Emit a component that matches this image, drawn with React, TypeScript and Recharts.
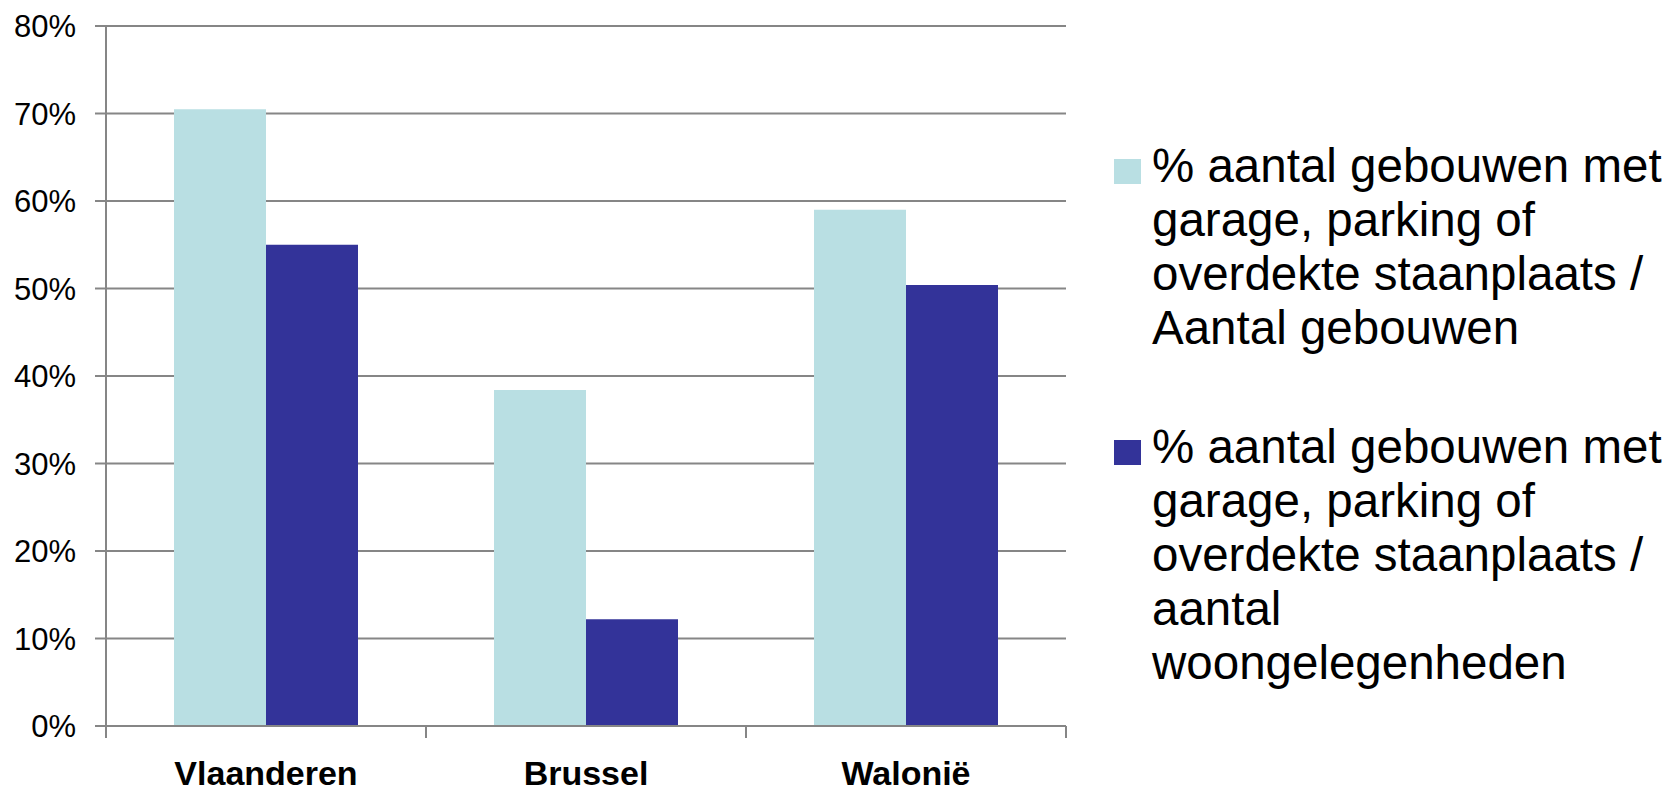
import React from "react";
import { BarChart, Bar, XAxis, YAxis, CartesianGrid, Legend } from "recharts";

const categories = ["Vlaanderen", "Brussel", "Walonië"];
const seriesNames = [
  "% aantal gebouwen met garage, parking of overdekte staanplaats / Aantal gebouwen",
  "% aantal gebouwen met garage, parking of overdekte staanplaats / aantal woongelegenheden",
];
const perBuilding = [70.5, 38.4, 59.0];
const perDwelling = [55.0, 12.2, 50.4];
const yTicks = [0, 10, 20, 30, 40, 50, 60, 70, 80];
const colors = ["#B9DFE3", "#333399"];

const data = categories.map((c, i) => ({
  name: c,
  s1: perBuilding[i],
  s2: perDwelling[i],
}));

const GRID = "#868686";
const FONT = "'Liberation Sans', Arial, sans-serif";

const XTick = (props: any) => {
  const { x, y, payload, index } = props;
  const half = payload && payload.offset ? payload.offset : 160;
  const last = index === categories.length - 1;
  return (
    <g>
      <line x1={x - half} x2={x - half} y1={y - 12} y2={y} stroke={GRID} strokeWidth={2} />
      {last && <line x1={x + half} x2={x + half} y1={y - 12} y2={y} stroke={GRID} strokeWidth={2} />}
      <text x={x} y={y + 47} textAnchor="middle" fontFamily={FONT} fontWeight="bold" fontSize={34} fill="#000">
        {payload.value}
      </text>
    </g>
  );
};

const LegendContent = (props: any) => {
  const { payload } = props;
  return (
    <div style={{ fontFamily: FONT }}>
      {(payload || []).map((entry: any, i: number) => (
        <div key={i} style={{ display: "flex", flexDirection: "row", alignItems: "flex-start", marginBottom: 65 }}>
          <div style={{ width: 27, height: 25, background: entry.color, marginTop: 20, marginRight: 11, flexShrink: 0 }} />
          <div style={{ width: 530, fontSize: 47.5, lineHeight: "54px", color: "#000" }}>{entry.value}</div>
        </div>
      ))}
    </div>
  );
};

export default function App() {
  return (
    <div style={{ position: "absolute", left: 0, top: 0, width: 1672, height: 794, background: "#fff", overflow: "hidden" }}>
      <BarChart
        width={1672}
        height={794}
        data={data}
        margin={{ top: 26, right: 606, bottom: 8, left: 10 }}
        barCategoryGap="21.25%"
        barGap={0}
      >
        <CartesianGrid vertical={false} stroke={GRID} strokeWidth={2} />
        <XAxis
          dataKey="name"
          height={60}
          axisLine={{ stroke: GRID, strokeWidth: 2 }}
          tickLine={false}
          tickSize={12}
          tickMargin={0}
          tick={<XTick />}
          interval={0}
        />
        <YAxis
          width={96}
          domain={[0, 80]}
          ticks={yTicks}
          interval={0}
          axisLine={{ stroke: GRID, strokeWidth: 2 }}
          tickLine={{ stroke: GRID, strokeWidth: 2 }}
          tickSize={11}
          tickMargin={19}
          tickFormatter={(v: number) => `${v}%`}
          tick={{ fontFamily: FONT, fontSize: 31, fill: "#000" }}
        />
        <Legend
          layout="vertical"
          align="center"
          verticalAlign="middle"
          wrapperStyle={{ left: 1114, top: 139, width: 558 }}
          content={<LegendContent />}
        />
        <Bar dataKey="s1" name={seriesNames[0]} fill={colors[0]} isAnimationActive={false} />
        <Bar dataKey="s2" name={seriesNames[1]} fill={colors[1]} isAnimationActive={false} />
      </BarChart>
    </div>
  );
}
